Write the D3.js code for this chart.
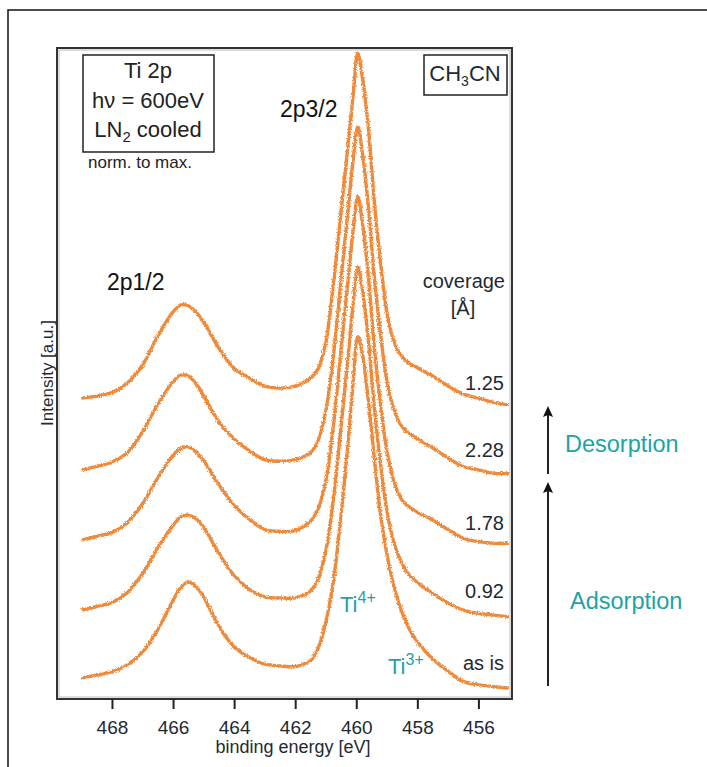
<!DOCTYPE html>
<html>
<head>
<meta charset="utf-8">
<script src="https://cdn.jsdelivr.net/npm/d3@7"></script>
<style>
  body { margin: 0; background: #fff; }
  svg text { font-family: "Liberation Sans", Arial, sans-serif; }
</style>
</head>
<body>
<div id="chart"></div>
<script>
// Ti 2p XPS spectra, CH3CN adsorption / desorption series
const energy = [469.0, 468.5, 468.0, 467.5, 467.0, 466.5, 466.0, 465.75, 465.5, 465.25,
  465.0, 464.5, 464.0, 463.5, 463.0, 462.5, 462.0, 461.5, 461.25, 461.0,
  460.75, 460.5, 460.25, 460.1, 459.95, 459.8, 459.6, 459.4, 459.2, 459.0,
  458.75, 458.5, 458.25, 458.0, 457.5, 457.0, 456.5, 456.0, 455.5, 455.0];

// normalized to 2p3/2 maximum, top to bottom
const cov125 = [0, 0.006, 0.016, 0.043, 0.096, 0.18, 0.25, 0.27, 0.268, 0.25,
  0.22, 0.145, 0.087, 0.058, 0.035, 0.029, 0.035, 0.058, 0.085, 0.16,
  0.33, 0.54, 0.75, 0.88, 1.0, 0.93, 0.78, 0.56, 0.39, 0.25,
  0.16, 0.12, 0.1, 0.088, 0.064, 0.036, 0.012, 0.0, -0.012, -0.02];
const cov228 = [0, 0.01, 0.023, 0.05, 0.11, 0.19, 0.255, 0.275, 0.272, 0.25,
  0.215, 0.14, 0.09, 0.055, 0.03, 0.025, 0.03, 0.05, 0.085, 0.17,
  0.33, 0.55, 0.77, 0.9, 0.995, 0.92, 0.76, 0.55, 0.39, 0.26,
  0.17, 0.125, 0.105, 0.09, 0.064, 0.035, 0.01, 0.0, -0.01, -0.01];
const cov178 = [0, 0.01, 0.022, 0.05, 0.105, 0.18, 0.245, 0.265, 0.27, 0.255,
  0.23, 0.16, 0.1, 0.06, 0.03, 0.025, 0.027, 0.055, 0.09, 0.17,
  0.33, 0.55, 0.77, 0.9, 0.995, 0.92, 0.76, 0.55, 0.39, 0.26,
  0.165, 0.115, 0.095, 0.08, 0.058, 0.03, 0.005, -0.005, -0.01, -0.01];
const cov092 = [0, 0.01, 0.022, 0.05, 0.105, 0.18, 0.245, 0.27, 0.275, 0.265,
  0.24, 0.165, 0.1, 0.06, 0.038, 0.035, 0.035, 0.055, 0.09, 0.17,
  0.32, 0.53, 0.75, 0.89, 0.995, 0.93, 0.78, 0.58, 0.42, 0.29,
  0.19, 0.135, 0.1, 0.08, 0.048, 0.02, 0.0, -0.01, -0.015, -0.02];
const asIs = [0, 0.008, 0.018, 0.038, 0.075, 0.14, 0.225, 0.262, 0.278, 0.265,
  0.235, 0.15, 0.09, 0.06, 0.04, 0.035, 0.033, 0.05, 0.085, 0.16,
  0.28, 0.47, 0.7, 0.86, 0.99, 0.94, 0.8, 0.63, 0.47, 0.36,
  0.26, 0.19, 0.14, 0.105, 0.055, 0.02, -0.01, -0.02, -0.025, -0.03];

const seriesValues = [cov125, cov228, cov178, cov092, asIs];
const coverageLabels = ["1.25", "2.28", "1.78", "0.92", "as is"];
const offsets = [0.872, 0.664, 0.461, 0.258, 0.061];
const xTicks = [468, 466, 464, 462, 460, 458, 456];

const W = 707, H = 767;
const box = { left: 57, right: 512, top: 48, bottom: 699 };
const orange = "#ee8a3a";
const teal = "#1ca3a6";
const ink = "#1e2a33";

const svg = d3.select("#chart").append("svg")
  .attr("width", W).attr("height", H);

// measurement noise look for the traces
const noise = svg.append("defs").append("filter")
  .attr("id", "noisy")
  .attr("x", "-5%").attr("y", "-5%").attr("width", "110%").attr("height", "110%");
noise.append("feTurbulence")
  .attr("type", "fractalNoise").attr("baseFrequency", 0.8)
  .attr("numOctaves", 1).attr("seed", 3).attr("result", "turb");
noise.append("feDisplacementMap")
  .attr("in", "SourceGraphic").attr("in2", "turb")
  .attr("scale", 4).attr("xChannelSelector", "R").attr("yChannelSelector", "G");

// outer frame
svg.append("rect")
  .attr("x", 8).attr("y", 10).attr("width", 710).attr("height", 770)
  .attr("fill", "none").attr("stroke", "#111").attr("stroke-width", 1.5);

const x = d3.scaleLinear().domain([469.8, 454.9]).range([box.left, box.right]);
const y = d3.scaleLinear().domain([0, 1.887]).range([box.bottom, box.top]);

// spectra
const line = d3.line()
  .x(d => x(d[0]))
  .y(d => y(d[1]))
  .curve(d3.curveCatmullRom.alpha(0.5));

svg.append("g")
  .attr("filter", "url(#noisy)")
  .selectAll("path")
  .data(seriesValues)
  .enter()
  .append("path")
  .attr("d", (vals, i) => line(energy.map((e, j) => [e, vals[j] + offsets[i]])))
  .attr("fill", "none")
  .attr("stroke", orange)
  .attr("stroke-width", 3.4)
  .attr("stroke-linejoin", "round");

// plot frame
svg.append("rect")
  .attr("x", box.left).attr("y", box.top)
  .attr("width", box.right - box.left).attr("height", box.bottom - box.top)
  .attr("fill", "none").attr("stroke", "#333").attr("stroke-width", 2);
svg.append("rect")
  .attr("x", box.left + 2).attr("y", box.top + 2)
  .attr("width", box.right - box.left - 4).attr("height", box.bottom - box.top - 4)
  .attr("fill", "none").attr("stroke", "#bbb").attr("stroke-width", 1);

// x axis
const xAxis = svg.append("g")
  .attr("transform", `translate(0,${box.bottom})`)
  .call(d3.axisBottom(x).tickValues(xTicks).tickSize(10).tickPadding(12));
xAxis.select(".domain").remove();
xAxis.selectAll(".tick line").attr("stroke", "#222").attr("stroke-width", 2);
xAxis.selectAll(".tick text")
  .attr("font-size", 19).attr("fill", ink)
  .attr("font-family", "Liberation Sans, Arial, sans-serif");

svg.append("text")
  .attr("x", 293).attr("y", 753)
  .attr("text-anchor", "middle")
  .attr("font-size", 18).attr("fill", ink)
  .text("binding energy [eV]");

svg.append("text")
  .attr("transform", "translate(53,373) rotate(-90)")
  .attr("text-anchor", "middle")
  .attr("font-size", 17).attr("fill", ink)
  .text("Intensity [a.u.]");

// info box
svg.append("rect")
  .attr("x", 83).attr("y", 55).attr("width", 131).attr("height", 97)
  .attr("fill", "#fff").attr("stroke", "#222").attr("stroke-width", 1.5);
svg.append("text").attr("x", 148).attr("y", 78).attr("text-anchor", "middle")
  .attr("font-size", 22).attr("fill", "#222").text("Ti 2p");
svg.append("text").attr("x", 148).attr("y", 108).attr("text-anchor", "middle")
  .attr("font-size", 22).attr("fill", "#222").text("hν = 600eV");
const ln2 = svg.append("text").attr("x", 148).attr("y", 137).attr("text-anchor", "middle")
  .attr("font-size", 22).attr("fill", "#222");
ln2.append("tspan").text("LN");
ln2.append("tspan").attr("font-size", 15).attr("dy", 5).text("2");
ln2.append("tspan").attr("dy", -5).text(" cooled");
svg.append("text").attr("x", 88).attr("y", 168)
  .attr("font-size", 17).attr("fill", "#222").text("norm. to max.");

// CH3CN box
svg.append("rect")
  .attr("x", 424).attr("y", 55).attr("width", 83).attr("height", 40)
  .attr("fill", "#fff").attr("stroke", "#222").attr("stroke-width", 1.5);
const ch = svg.append("text").attr("x", 465).attr("y", 81).attr("text-anchor", "middle")
  .attr("font-size", 22).attr("fill", ink);
ch.append("tspan").text("CH");
ch.append("tspan").attr("font-size", 14).attr("dy", 5).text("3");
ch.append("tspan").attr("dy", -5).text("CN");

// peak labels
svg.append("text").attr("x", 280).attr("y", 117)
  .attr("font-size", 23).attr("fill", "#111").text("2p3/2");
svg.append("text").attr("x", 107).attr("y", 290)
  .attr("font-size", 23).attr("fill", "#111").text("2p1/2");

// coverage labels
svg.append("text").attr("x", 505).attr("y", 288).attr("text-anchor", "end")
  .attr("font-size", 20).attr("fill", ink).text("coverage");
svg.append("text").attr("x", 463).attr("y", 315).attr("text-anchor", "middle")
  .attr("font-size", 20).attr("fill", ink).text("[Å]");

const labelY = [390, 457, 530, 598, 670];
svg.append("g")
  .selectAll("text")
  .data(coverageLabels)
  .enter()
  .append("text")
  .attr("x", 504)
  .attr("y", (d, i) => labelY[i])
  .attr("text-anchor", "end")
  .attr("font-size", 20)
  .attr("fill", ink)
  .text(d => d);

// oxidation state labels
const ti4 = svg.append("text").attr("x", 340).attr("y", 612)
  .attr("font-size", 22).attr("fill", teal);
ti4.append("tspan").text("Ti");
ti4.append("tspan").attr("font-size", 16).attr("dy", -9).text("4+");
const ti3 = svg.append("text").attr("x", 388).attr("y", 674)
  .attr("font-size", 22).attr("fill", teal);
ti3.append("tspan").text("Ti");
ti3.append("tspan").attr("font-size", 16).attr("dy", -9).text("3+");

// arrows
const arrows = [
  { y1: 474, y2: 406, label: "Desorption", lx: 565, ly: 452 },
  { y1: 686, y2: 482, label: "Adsorption", lx: 570, ly: 609 }
];
arrows.forEach(a => {
  svg.append("line")
    .attr("x1", 548).attr("x2", 548)
    .attr("y1", a.y1).attr("y2", a.y2 + 8)
    .attr("stroke", "#222").attr("stroke-width", 2);
  svg.append("path")
    .attr("d", `M548,${a.y2} L553,${a.y2 + 11} L548,${a.y2 + 9} L543,${a.y2 + 11} Z`)
    .attr("fill", "#111");
  svg.append("text")
    .attr("x", a.lx).attr("y", a.ly)
    .attr("font-size", 23.5).attr("fill", teal)
    .text(a.label);
});
</script>
</body>
</html>
